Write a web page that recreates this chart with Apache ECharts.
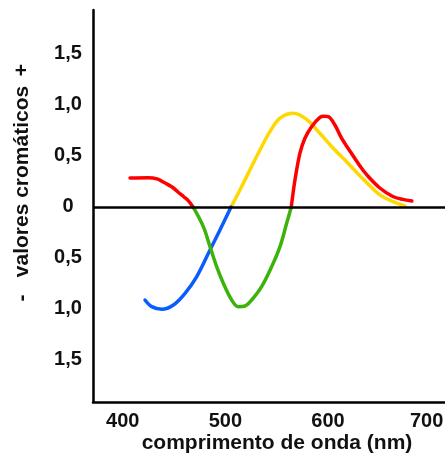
<!DOCTYPE html>
<html>
<head>
<meta charset="utf-8">
<script src="https://cdn.jsdelivr.net/npm/echarts@6/dist/echarts.min.js"></script>
<style>html,body{margin:0;padding:0;background:#fff}#c{width:445px;height:459px}</style>
</head>
<body>
<div id="c"></div>
<script>
// Red (positive, short wavelengths)
var redLeftX = [407.1,424.6,433.4,441.2,448.0,453.8,459.7,463.6,468.5];
var redLeftY = [0.284,0.287,0.275,0.235,0.196,0.147,0.098,0.064,0];
// Green (negative lobe of the red function)
var greenX = [468.5,478.5,485.0,491.5,498.0,506.1,512.6,519.1,525.6,535.3,545.1,553.2,559.7,564.2];
var greenY = [0,-0.193,-0.389,-0.585,-0.748,-0.912,-0.978,-0.971,-0.912,-0.781,-0.585,-0.389,-0.160,0];
// Red (main positive lobe)
var redRightX = [564.2,567.8,572.6,577.5,584.0,592.1,596.2,600.2,606.7,613.2,621.3,631.1,637.9,650.5,663.2,672.9,681.7];
var redRightY = [0,0.265,0.526,0.674,0.787,0.879,0.889,0.885,0.804,0.674,0.549,0.402,0.314,0.186,0.103,0.074,0.059];
// Blue (negative lobe)
var blueX = [421.7,428.2,438.0,449.3,460.7,472.1,485.0,494.7,505.5];
var blueY = [-0.912,-0.977,-1.003,-0.961,-0.846,-0.683,-0.422,-0.225,0];
// Yellow (positive lobe)
var yellowX = [505.5,514.2,523.9,533.7,543.4,553.2,566.1,578.5,592.1,605.1,618.1,631.1,637.6,650.5,663.5,674.9];
var yellowY = [0,0.167,0.363,0.559,0.738,0.870,0.919,0.863,0.723,0.575,0.444,0.305,0.240,0.118,0.052,0.010];
// Tick labels
var xTicks = [400,500,600,700];
var yTicks = [-1.5,-1.0,-0.5,0,0.5,1.0,1.5];

function zip(a,b){return a.map(function(v,i){return [v,b[i]];});}
function curve(x,y,color,z){
  return {type:'line',data:zip(x,y),smooth:0.35,showSymbol:false,symbol:'none',z:z,
    lineStyle:{width:3.5,color:color,cap:'round',join:'round'},itemStyle:{color:color}};
}
var FONT = '"Liberation Sans", Arial, sans-serif';
var labelFont = {color:'#111',fontSize:20,fontWeight:'bold',fontFamily:FONT};
var chart = echarts.init(document.getElementById('c'));
var series = [
  curve(yellowX,yellowY,'#ffd800',2),
  curve(blueX,blueY,'#0a5cff',2),
  curve(greenX,greenY,'#3cb30a',3),
  curve(redLeftX,redLeftY,'#ff0000',3),
  curve(redRightX,redRightY,'#ff0000',3)
];
series.push({type:'line',data:[],silent:true,z:5,
  markLine:{silent:true,symbol:'none',animation:false,label:{show:false},
    lineStyle:{color:'#000',width:2.5,type:'solid'},data:[{yAxis:0}]}});
chart.setOption({
  animation:false,
  grid:{left:93,right:0,top:10,bottom:57,containLabel:false,outerBoundsMode:'none'},
  xAxis:{type:'value',min:371,max:714,
    axisLine:{onZero:false,lineStyle:{color:'#000',width:2.5}},
    axisTick:{show:false},splitLine:{show:false},
    axisLabel:Object.assign({customValues:xTicks,margin:9,hideOverlap:false,
      formatter:function(v){return v===xTicks[xTicks.length-1]?'{e|'+v+'}':'{n|'+v+'}';},
      rich:{n:Object.assign({},labelFont),e:Object.assign({padding:[0,8,0,0]},labelFont)}},labelFont)
  },
  yAxis:{type:'value',min:-1.912,max:1.931,
    axisLine:{show:true,lineStyle:{color:'#000',width:2.5}},
    axisTick:{show:false},splitLine:{show:false},
    axisLabel:Object.assign({customValues:yTicks,margin:25,align:'center',
      formatter:function(v){return v===0?'0':Math.abs(v).toFixed(1).replace('.',',');}},labelFont)
  },
  series:series,
  graphic:[
    {type:'text',x:22,y:181.5,rotation:Math.PI/2,style:{text:'valores cromáticos',font:'bold 21px '+FONT,fill:'#111',align:'center',verticalAlign:'middle'}},
    {type:'text',x:22,y:70,rotation:Math.PI/2,style:{text:'+',font:'bold 21px '+FONT,fill:'#111',align:'center',verticalAlign:'middle'}},
    {type:'text',x:22,y:298,rotation:Math.PI/2,style:{text:'-',font:'bold 21px '+FONT,fill:'#111',align:'center',verticalAlign:'middle'}},
    {type:'text',x:277,y:443,style:{text:'comprimento de onda (nm)',font:'bold 21px '+FONT,fill:'#111',align:'center',verticalAlign:'middle'}}
  ]
});
</script>
</body>
</html>
